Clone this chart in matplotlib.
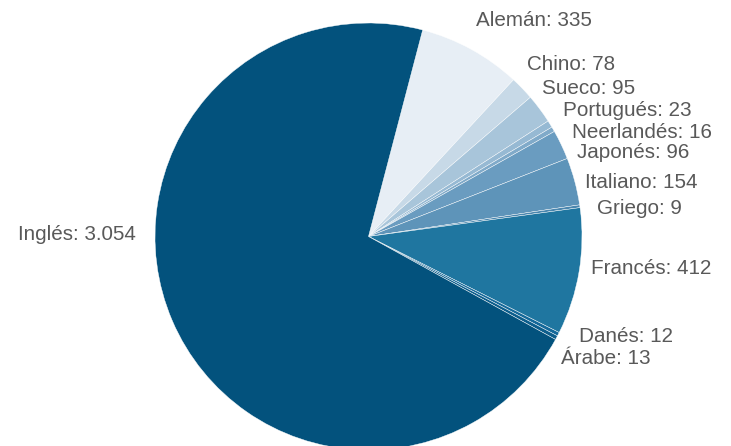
import matplotlib
matplotlib.use("Agg")
import matplotlib.pyplot as plt

# data, in the order the slices go round (clockwise)
idiomas = ["Alemán", "Chino", "Sueco", "Portugués", "Neerlandés", "Japonés",
           "Italiano", "Griego", "Francés", "Danés", "Árabe", "Inglés"]
valores = [335, 78, 95, 23, 16, 96, 154, 9, 412, 12, 13, 3054]
etiquetas = ["Alemán: 335", "Chino: 78", "Sueco: 95", "Portugués: 23",
             "Neerlandés: 16", "Japonés: 96", "Italiano: 154", "Griego: 9",
             "Francés: 412", "Danés: 12", "Árabe: 13", "Inglés: 3.054"]

colores = ["#e7eef5", "#c7d9e7", "#a8c5da", "#96b9d3", "#80aac9", "#6a9cc0",
           "#5e94b9", "#4a86ae", "#1f76a0", "#15699a", "#0d5e8c", "#03527d"]

# label placement (pixels in the picture: x, y, alignment)
pos_etiquetas = [(476, 21, "left"), (527, 64, "left"), (542, 89, "left"),
                 (563, 110, "left"), (572, 132, "left"), (577, 153, "left"),
                 (585, 183, "left"), (597, 208, "left"), (591, 268, "left"),
                 (579, 337, "left"), (561, 358, "left"), (136, 234, "right")]

W, H = 731, 446
fig = plt.figure(figsize=(W / 100, H / 100), dpi=100)
ax = fig.add_axes([0, 0, 1, 1])

ax.pie(valores, colors=colores, startangle=75.3, counterclock=False,
       center=(368.5, H - 236.5), radius=213.5, frame=True,
       wedgeprops=dict(edgecolor="white", linewidth=0.3))

for txt, (x, y, ha) in zip(etiquetas, pos_etiquetas):
    ax.text(x, H - y, txt, ha=ha, va="center", fontsize=14.9,
            color="#595959", family="Liberation Sans")

ax.set_xlim(0, W)
ax.set_ylim(0, H)
ax.set_aspect("equal")
ax.axis("off")

fig.savefig("out.png", dpi=100)
